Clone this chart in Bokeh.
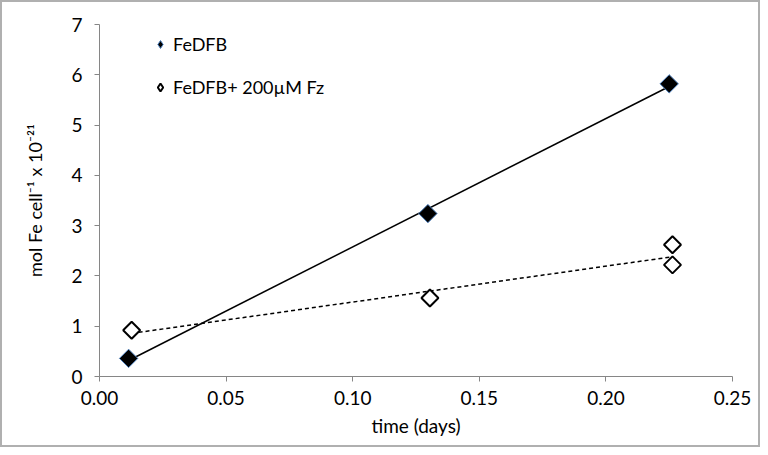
import numpy as np
from bokeh.plotting import figure
from bokeh.models import Legend, LegendItem, FixedTicker, NumeralTickFormatter, Range1d
from bokeh.embed import file_html
from bokeh.resources import INLINE

# Data
fedfb_time = [0.0115, 0.1297, 0.2250]
fedfb_fe = [0.36, 3.24, 5.82]
fz_time = [0.0127, 0.1305, 0.2263, 0.2263]
fz_fe = [0.92, 1.56, 2.62, 2.22]
x_ticks = [0.0, 0.05, 0.10, 0.15, 0.20, 0.25]
y_ticks = [0, 1, 2, 3, 4, 5, 6, 7]

FONT = "Lato"
AXIS_GRAY = "#868686"

p = figure(width=760, height=447, output_backend="svg", toolbar_location=None,
           x_range=Range1d(0, 0.25), y_range=Range1d(0, 7),
           min_border_left=97, min_border_right=30, min_border_top=22, min_border_bottom=73)
p.styles = {"border": "2px solid #b0b0b0", "box-sizing": "border-box"}
p.outline_line_color = None
p.xgrid.grid_line_color = None
p.ygrid.grid_line_color = None
p.background_fill_color = "white"
p.border_fill_color = "white"

for ax in (p.xaxis[0], p.yaxis[0]):
    ax.axis_line_color = AXIS_GRAY
    ax.major_tick_line_color = AXIS_GRAY
    ax.major_tick_out = 5
    ax.major_tick_in = 0
    ax.minor_tick_line_color = None
    ax.major_label_text_font = FONT
    ax.major_label_text_font_size = "19px"
    ax.major_label_text_color = "#000000"
    ax.axis_label_text_font = FONT
    ax.axis_label_text_font_size = "19px"
    ax.axis_label_text_font_style = "normal"
    ax.axis_label_text_color = "#000000"

p.xaxis.ticker = FixedTicker(ticks=x_ticks)
p.xaxis.formatter = NumeralTickFormatter(format="0.00")
p.xaxis.axis_label = "time (days)"
p.xaxis.major_label_standoff = 9
p.xaxis.axis_label_standoff = 6

p.yaxis.ticker = FixedTicker(ticks=y_ticks)
p.yaxis.axis_label = "mol Fe cell\u207b\u00b9 x 10\u207b\u00b2\u00b9"
p.yaxis.axis_label_text_font_size = "18px"
p.yaxis.major_label_standoff = 12
p.yaxis.axis_label_standoff = 22

ang = np.pi / 4

# small markers (hidden under the big ones) that serve as legend glyphs
lg1 = p.scatter(fedfb_time, fedfb_fe, marker="diamond", size=13,
                fill_color="black", line_color="#4f81bd", line_width=1)
lg2 = p.scatter(fz_time, fz_fe, marker="diamond", size=12,
                fill_color="white", line_color="black", line_width=2)

# Linear trend lines fitted to the data
m1, b1 = np.polyfit(fedfb_time, fedfb_fe, 1)
fx1 = np.array([min(fedfb_time), max(fedfb_time)])
p.line(fx1, m1 * fx1 + b1, line_color="black", line_width=1.5)

m2, b2 = np.polyfit(fz_time, fz_fe, 1)
fx2 = np.array([min(fz_time), max(fz_time)])
p.line(fx2, m2 * fx2 + b2, line_color="black", line_width=1.5, line_dash="4 3")

p.scatter(fedfb_time, fedfb_fe, marker="square", size=13, angle=ang,
          fill_color="black", line_color="#4f81bd", line_width=1)
p.scatter(fz_time, fz_fe, marker="square", size=12, angle=ang,
          fill_color="white", line_color="black", line_width=2)

legend = Legend(items=[LegendItem(label="FeDFB", renderers=[lg1]),
                       LegendItem(label="FeDFB+ 200\u00b5M Fz", renderers=[lg2])])
legend.margin = 0
legend.padding = 0
legend.border_line_color = None
legend.background_fill_alpha = 0
legend.glyph_width = 20
legend.glyph_height = 20
legend.label_height = 20
legend.spacing = 21
legend.label_standoff = 3
legend.label_text_font = FONT
legend.label_text_font_size = "18px"
legend.label_text_color = "#000000"
legend.location = (51, 278)
p.add_layout(legend)

open("out.html", "w").write(file_html(p, INLINE))
